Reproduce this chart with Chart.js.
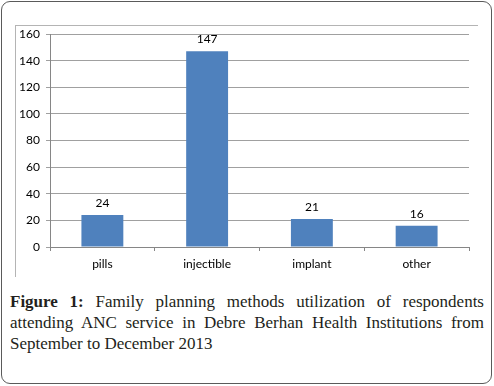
<!DOCTYPE html>
<html>
<head>
<meta charset="utf-8">
<script src="https://cdn.jsdelivr.net/npm/chart.js@4"></script>
<style>
  body { margin: 0; background: #fff; width: 494px; height: 386px; position: relative; overflow: hidden; }
  #outer { position: absolute; left: 1px; top: 1px; width: 489px; height: 381px; border: 1px solid #5a5a5a; border-radius: 9px; }
  #frameTop { position: absolute; left: 15px; top: 25px; width: 463px; height: 1px; background: #b4b4b4; }
  #frameLeft { position: absolute; left: 15px; top: 25px; width: 1px; height: 252px; background: #b4b4b4; }
  #wrap { position: absolute; left: 0; top: 0; width: 494px; height: 290px; }
  #caption { position: absolute; left: 10px; top: 291px; width: 474px; font-family: "Liberation Serif", serif; font-size: 17px; line-height: 21px; color: #231f20; text-align: justify; }
</style>
</head>
<body>
<div id="outer"></div>
<div id="frameTop"></div>
<div id="frameLeft"></div>
<div id="wrap"><canvas id="chart"></canvas></div>
<div id="caption"><b>Figure 1:</b> Family planning methods utilization of respondents attending ANC service in Debre Berhan Health Institutions from September to December 2013</div>
<script>
  'use strict';

  // data
  const categories = ['pills', 'injectible', 'implant', 'other'];
  const values = [24, 147, 21, 16];
  const yMin = 0;
  const yMax = 160;
  const yStep = 20;

  const FONT = 'Lato, "Open Sans", sans-serif';

  // value labels above the bars
  const barLabels = {
    id: 'barLabels',
    afterDatasetsDraw(chart) {
      const ctx = chart.ctx;
      const meta = chart.getDatasetMeta(0);
      ctx.save();
      ctx.font = '12px ' + FONT;
      ctx.fillStyle = '#000';
      ctx.textAlign = 'center';
      ctx.textBaseline = 'bottom';
      meta.data.forEach((bar, i) => {
        ctx.fillText(String(values[i]), bar.x, bar.y - 6);
      });
      ctx.restore();
    }
  };

  new Chart(document.getElementById('chart'), {
    type: 'bar',
    data: {
      labels: categories,
      datasets: [{
        data: values,
        backgroundColor: '#4f81bd',
        borderColor: '#4a7ebb',
        borderWidth: 0,
        barPercentage: 0.4,
        categoryPercentage: 1.0
      }]
    },
    options: {
      responsive: true,
      maintainAspectRatio: false,
      animation: false,
      layout: { padding: { top: 34, right: 25, bottom: 0, left: 0 } },
      plugins: {
        legend: { display: false },
        tooltip: { enabled: false }
      },
      scales: {
        x: {
          grid: { drawOnChartArea: false, drawTicks: true, tickLength: 4, offset: true, color: '#868686' },
          border: { color: '#868686' },
          ticks: { color: '#000', font: { family: FONT, size: 12 }, padding: 6 },
          afterFit(scale) { scale.height = 43; }
        },
        y: {
          min: yMin,
          max: yMax,
          ticks: { stepSize: yStep, color: '#000', font: { family: FONT, size: 12 }, padding: 6 },
          grid: { color: '#a0a0a0', tickLength: 4 },
          border: { color: '#868686' },
          afterFit(scale) { scale.width = 50; }
        }
      }
    },
    plugins: [barLabels]
  });
</script>
</body>
</html>
